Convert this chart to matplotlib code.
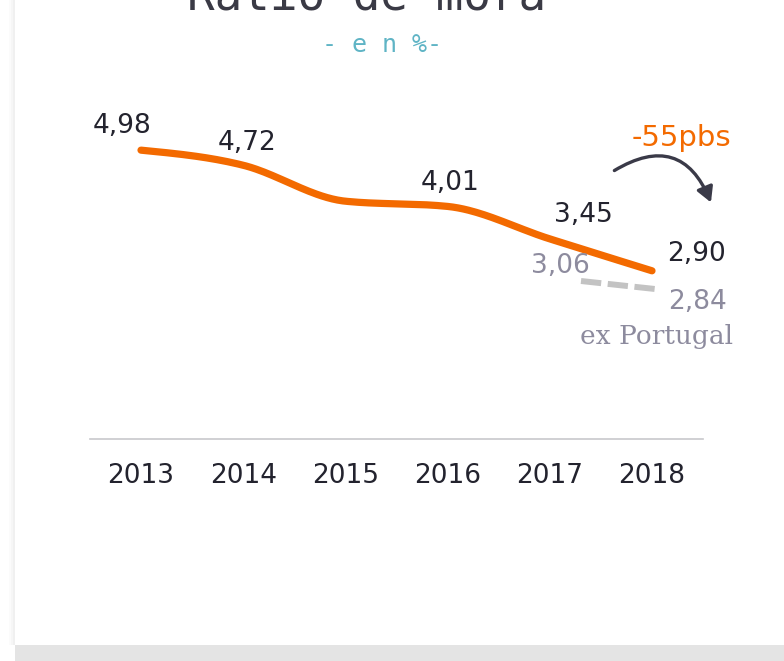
import numpy as np
import matplotlib
matplotlib.use('Agg')
import matplotlib.pyplot as plt
from matplotlib.patches import Rectangle, FancyArrowPatch

# data
years = [2013, 2014, 2015, 2016, 2017, 2018]
ratio = [4.98, 4.72, 4.10, 4.01, 3.45, 2.90]
ratio_labels = ['4,98', '4,72', '', '4,01', '3,45', '2,90']
ex_years = [2017, 2018]
ex_ratio = [3.06, 2.84]
ex_labels = ['3,06', '2,84']

orange = '#f36a00'
grey_txt = '#8d8b9e'
dark = '#23232e'

W, H = 784, 661


def monotone(x, y, n=40):
    # monotone cubic (same as d3 curveMonotoneX) for a smooth line
    x = np.asarray(x, float)
    y = np.asarray(y, float)
    h = np.diff(x)
    s = np.diff(y) / h
    t = np.zeros_like(y)
    for i in range(1, len(x) - 1):
        p = (s[i-1]*h[i] + s[i]*h[i-1]) / (h[i-1] + h[i])
        t[i] = (np.sign(s[i-1]) + np.sign(s[i])) * min(abs(s[i-1]), abs(s[i]), 0.5*abs(p))
    t[0] = (3*s[0] - t[1]) / 2
    t[-1] = (3*s[-1] - t[-2]) / 2
    xs, ys = [], []
    u = np.linspace(0, 1, n)
    h00 = 2*u**3 - 3*u**2 + 1
    h10 = u**3 - 2*u**2 + u
    h01 = -2*u**3 + 3*u**2
    h11 = u**3 - u**2
    for i in range(len(x) - 1):
        xs.append(x[i] + u*h[i])
        ys.append(h00*y[i] + h10*h[i]*t[i] + h01*y[i+1] + h11*h[i]*t[i+1])
    return np.concatenate(xs), np.concatenate(ys)


def lims(v0, p0, v1, p1, size):
    # axis limits so that value v0 sits at pixel p0 and v1 at pixel p1
    k = (p1 - p0) / (v1 - v0)
    return (v0 - p0 / k, v0 + (size - p0) / k)


fig = plt.figure(figsize=(W/100, H/100), dpi=100)
fig.patch.set_facecolor('white')

# card shadow
fig.add_artist(Rectangle((15/W, 0), 1, 16/H, transform=fig.transFigure,
                         facecolor='#e4e4e4', edgecolor='none'))
for i, c in enumerate(['#fbfbfb', '#f6f6f6', '#f0f0f0']):
    fig.add_artist(Rectangle(((9 + 2*i)/W, 16/H), 2/W, 1, transform=fig.transFigure,
                             facecolor=c, edgecolor='none'))

# main axes: 2013 at px 141, 2018 at px 652; value 0 at py 439, 58 px per unit
ax = fig.add_axes([0, 0, 1, 1])
ax.set_xlim(*lims(2013, 141, 2018, 652, W))
ax.set_ylim(0 - (H - 439) / 58, 439 / 58)
ax.axis('off')

# baseline
ax.plot([years[0] - 0.5, years[-1] + 0.5], [0, 0], color='#c8c8cc', lw=1.2)

# year labels
for yr in years:
    ax.annotate(str(yr), (yr, 0), xytext=(0, -37), textcoords='offset pixels',
                ha='center', va='center', fontsize=19, color=dark)

xs, ys = monotone(years, ratio)
ax.plot(xs, ys, color=orange, lw=5.2, solid_capstyle='round', zorder=3)

offs = [(-19, 24), (4, 22), (0, 0), (2, 23), (34, 24), (45, 17)]
for yr, v, lab, (dx, dy) in zip(years, ratio, ratio_labels, offs):
    if lab:
        ax.annotate(lab, (yr, v), xytext=(dx, dy), textcoords='offset pixels',
                    ha='center', va='center', fontsize=19, color=dark)

# ex Portugal series on its own overlay axes
ax2 = fig.add_axes([0, 0, 1, 1], label='ex')
ax2.set_xlim(*lims(2017, 581, 2018, 655, W))
k = 8 / (ex_ratio[0] - ex_ratio[1])
ax2.set_ylim(ex_ratio[0] - (H - 281) / k, ex_ratio[0] + 281 / k)
ax2.axis('off')
ax2.plot(ex_years, ex_ratio, color='#c3c3c3', lw=4.3,
         linestyle=(0, (3.4, 1.1)), dash_capstyle='butt', zorder=2)
for yr, v, lab, (dx, dy) in zip(ex_years, ex_ratio, ex_labels, [(-21, 15), (43, -13)]):
    ax2.annotate(lab, (yr, v), xytext=(dx, dy), textcoords='offset pixels',
                 ha='center', va='center', fontsize=19, color=grey_txt)
ax2.annotate('ex Portugal', (ex_years[-1], ex_ratio[-1]), xytext=(2, -48),
             textcoords='offset pixels', ha='center', va='center',
             fontsize=19, color=grey_txt, family='DejaVu Serif')

# change annotation
change = round((ratio[-1] - ratio[-2]) * 100)
ax.annotate(f'{change}pbs', (years[-1], ratio[-1]), xytext=(29, 133),
            textcoords='offset pixels', ha='center', va='center',
            fontsize=21, color=orange)
arr = FancyArrowPatch((612, H - 172), (712, H - 205), transform=None,
                      connectionstyle='arc3,rad=-0.6',
                      arrowstyle='-|>,head_length=9,head_width=5',
                      color='#3a3a48', lw=2.4, capstyle='round')
fig.add_artist(arr)

# title and subtitle
fig.text(367/W, 1 - 10/H, 'Ratio de mora', ha='center', va='baseline',
         family='DejaVu Sans Mono', fontsize=33, color='#3a3a45')
fig.text(382/W, 1 - 45/H, '- e n %-', ha='center', va='center',
         family='DejaVu Sans Mono', fontsize=18, color='#5fb4c5')

fig.savefig('out.png', dpi=100)
